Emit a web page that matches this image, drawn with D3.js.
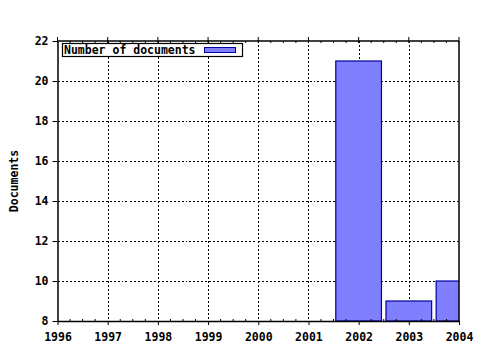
<!DOCTYPE html>
<html>
<head>
<meta charset="utf-8">
<script src="https://cdn.jsdelivr.net/npm/d3@7"></script>
<style>
  body { margin: 0; background: #fff; }
  text { font-family: "DejaVu Sans Mono", monospace; font-weight: bold; font-size: 11.5px; fill: #000; }
</style>
</head>
<body>
<div id="chart"></div>
<script>
/* ---------- dados ---------- */
const years  = [2002, 2003, 2004];
const docs   = [21, 9, 10];
const xTicks = [1996, 1997, 1998, 1999, 2000, 2001, 2002, 2003, 2004];
const yTicks = [8, 10, 12, 14, 16, 18, 20, 22];
const seriesName = 'Number of documents';
const yTitle = 'Documents';

/* ---------- área ---------- */
const W = 480, H = 350;
const plot = { l: 57.5, r: 459, t: 41, b: 321 };

const svg = d3.select('#chart').append('svg')
  .attr('width', W).attr('height', H);

const x = d3.scaleLinear().domain([1996, 2004]).range([plot.l, plot.r]);
const y = d3.scaleLinear().domain([8, 22]).range([plot.b, plot.t]);

svg.append('defs').append('clipPath').attr('id', 'clip')
  .append('rect')
  .attr('x', plot.l).attr('y', plot.t)
  .attr('width', plot.r - plot.l).attr('height', plot.b - plot.t);

/* ---------- grade ---------- */
const grid = svg.append('g')
  .attr('stroke', '#000').attr('stroke-width', 1)
  .attr('stroke-dasharray', '2,2').attr('shape-rendering', 'crispEdges');

grid.selectAll('.gx').data(xTicks.slice(1, -1)).enter().append('line')
  .attr('x1', d => Math.round(x(d)) + 0.5).attr('x2', d => Math.round(x(d)) + 0.5)
  .attr('y1', plot.t).attr('y2', plot.b);

grid.selectAll('.gy').data(yTicks.slice(1, -1)).enter().append('line')
  .attr('y1', d => Math.round(y(d)) + 0.5).attr('y2', d => Math.round(y(d)) + 0.5)
  .attr('x1', plot.l).attr('x2', plot.r);

/* ---------- barras ---------- */
const step = x(1997) - x(1996);
const bw = step * 0.91;

svg.append('g').attr('clip-path', 'url(#clip)')
  .selectAll('rect').data(years).enter().append('rect')
  .attr('x', d => x(d) - bw / 2)
  .attr('y', (d, i) => y(docs[i]))
  .attr('width', bw)
  .attr('height', (d, i) => y(8) - y(docs[i]))
  .attr('fill', '#8080ff')
  .attr('stroke', '#0000a0')
  .attr('stroke-width', 1.2);

/* ---------- eixos ---------- */
const minor = d3.range(1996, 2004.001, 0.25).filter(v => !xTicks.includes(v));

const xAxis = svg.append('g')
  .attr('transform', `translate(0,${plot.b})`)
  .call(d3.axisBottom(x).tickValues(xTicks).tickFormat(d3.format('d')).tickSize(4).tickSizeOuter(0).tickPadding(8));

const yAxis = svg.append('g')
  .attr('transform', `translate(${plot.l},0)`)
  .call(d3.axisLeft(y).tickValues(yTicks).tickSize(5).tickSizeOuter(0).tickPadding(4));

[xAxis, yAxis].forEach(a => {
  a.select('.domain').attr('stroke-width', 1.5);
  a.selectAll('text').attr('font-size', null).attr('font-family', null);
  a.attr('font-size', null).attr('font-family', null);
});

// eixo inferior: ticks menores para dentro
svg.append('g').selectAll('line').data(minor).enter().append('line')
  .attr('x1', d => x(d)).attr('x2', d => x(d))
  .attr('y1', plot.b).attr('y2', plot.b - 2)
  .attr('stroke', '#000');

// eixo superior
svg.append('line')
  .attr('x1', plot.l).attr('x2', plot.r).attr('y1', plot.t).attr('y2', plot.t)
  .attr('stroke', '#000').attr('stroke-width', 1.5);
svg.append('g').selectAll('line').data(xTicks).enter().append('line')
  .attr('x1', d => x(d)).attr('x2', d => x(d))
  .attr('y1', plot.t - 4).attr('y2', plot.t + 2)
  .attr('stroke', '#000');
svg.append('g').selectAll('line').data(minor).enter().append('line')
  .attr('x1', d => x(d)).attr('x2', d => x(d))
  .attr('y1', plot.t).attr('y2', plot.t + 2)
  .attr('stroke', '#000');

// eixo direito
svg.append('line')
  .attr('x1', plot.r).attr('x2', plot.r).attr('y1', plot.t).attr('y2', plot.b)
  .attr('stroke', '#000').attr('stroke-width', 1.5);

/* ---------- título do eixo Y ---------- */
svg.append('text')
  .attr('transform', `translate(18,${(plot.t + plot.b) / 2}) rotate(-90)`)
  .attr('text-anchor', 'middle')
  .text(yTitle);

/* ---------- legenda ---------- */
const lg = svg.append('g');
lg.append('rect')
  .attr('x', 62.5).attr('y', 43.5).attr('width', 180).attr('height', 13)
  .attr('fill', '#fff').attr('stroke', '#000').attr('stroke-width', 1.2);
lg.append('text').attr('x', 64).attr('y', 54).text(seriesName);
lg.append('rect')
  .attr('x', 204.5).attr('y', 47.5).attr('width', 31).attr('height', 5)
  .attr('fill', '#8080ff').attr('stroke', '#0000a0');
</script>
</body>
</html>
